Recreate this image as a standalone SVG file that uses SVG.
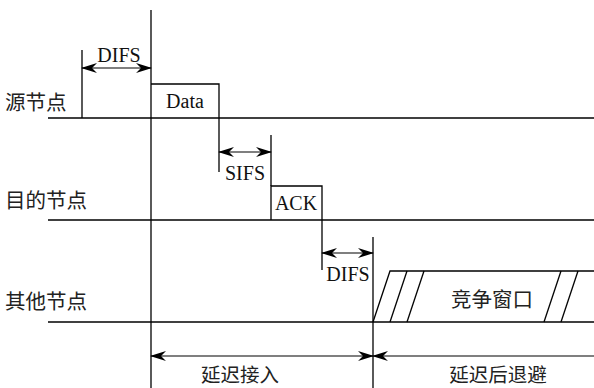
<svg xmlns="http://www.w3.org/2000/svg" width="594" height="388" viewBox="0 0 594 388">
<defs>
<style>
.l{stroke:#000;stroke-width:1.3;fill:none}
.a{stroke:#000;stroke-width:1.1;fill:none;marker-start:url(#ah);marker-end:url(#ah)}
.en{font-family:"Liberation Serif",serif;font-size:20px;fill:#111;text-anchor:middle}
.zh{font-family:"Noto Sans CJK SC",sans-serif;font-size:20.5px;fill:#222}
.zc{text-anchor:middle}
.zb{font-size:19.5px}
</style>
<marker id="ah" viewBox="0 0 16 10" refX="15" refY="5" markerWidth="16" markerHeight="10" markerUnits="userSpaceOnUse" orient="auto-start-reverse">
<path d="M0,0 L16,5 L0,10 L5,5 Z" fill="#000"/>
</marker>
</defs>
<rect width="594" height="388" fill="#fff"/>
<g id="labels">
<text class="zh" x="5" y="110">源节点</text>
<text class="zh" x="5" y="208">目的节点</text>
<text class="zh" x="5" y="309">其他节点</text>
</g>
<g id="timelines">
<line class="l" x1="48" y1="118" x2="594" y2="118"/>
<line class="l" x1="48" y1="220" x2="594" y2="220"/>
<line class="l" x1="48" y1="322" x2="594" y2="322"/>
<line class="l" x1="151" y1="10" x2="151" y2="388"/>
<line class="l" x1="373" y1="237" x2="373" y2="388"/>
</g>
<g id="data">
<path class="l" d="M151,84 H219 V118"/>
<text class="en" x="185" y="108">Data</text>
</g>
<g id="ack">
<path class="l" d="M271,220 V186 H322 V220"/>
<text class="en" x="296" y="210">ACK</text>
</g>
<g id="cw">
<path class="l" d="M373,322 L390,271 H594"/>
<line class="l" x1="390" y1="322" x2="407" y2="271"/>
<line class="l" x1="407" y1="322" x2="424" y2="271"/>
<line class="l" x1="544" y1="322" x2="561" y2="271"/>
<line class="l" x1="561" y1="322" x2="578" y2="271"/>
<text class="zh zc" x="492" y="307">竞争窗口</text>
</g>
<g id="connectors">
<line class="l" x1="82" y1="50" x2="82" y2="118"/>
<line class="a" x1="82" y1="68" x2="151" y2="68"/>
<line class="l" x1="219" y1="118" x2="219" y2="172"/>
<line class="l" x1="271" y1="135" x2="271" y2="186"/>
<line class="a" x1="219" y1="152" x2="271" y2="152"/>
<line class="l" x1="322" y1="220" x2="322" y2="270"/>
<line class="a" x1="322" y1="253" x2="373" y2="253"/>
<line class="a" x1="151" y1="356" x2="373" y2="356"/>
<line style="stroke:#000;stroke-width:1.1;marker-start:url(#ah)" x1="373" y1="356" x2="594" y2="356"/>
</g>
<g id="texts">
<text class="en" x="119" y="62">DIFS</text>
<text class="en" x="245" y="180">SIFS</text>
<text class="en" x="348" y="281">DIFS</text>
<text class="zh zc zb" x="240" y="382">延迟接入</text>
<text class="zh zc zb" x="498" y="382">延迟后退避</text>
</g>
</svg>
